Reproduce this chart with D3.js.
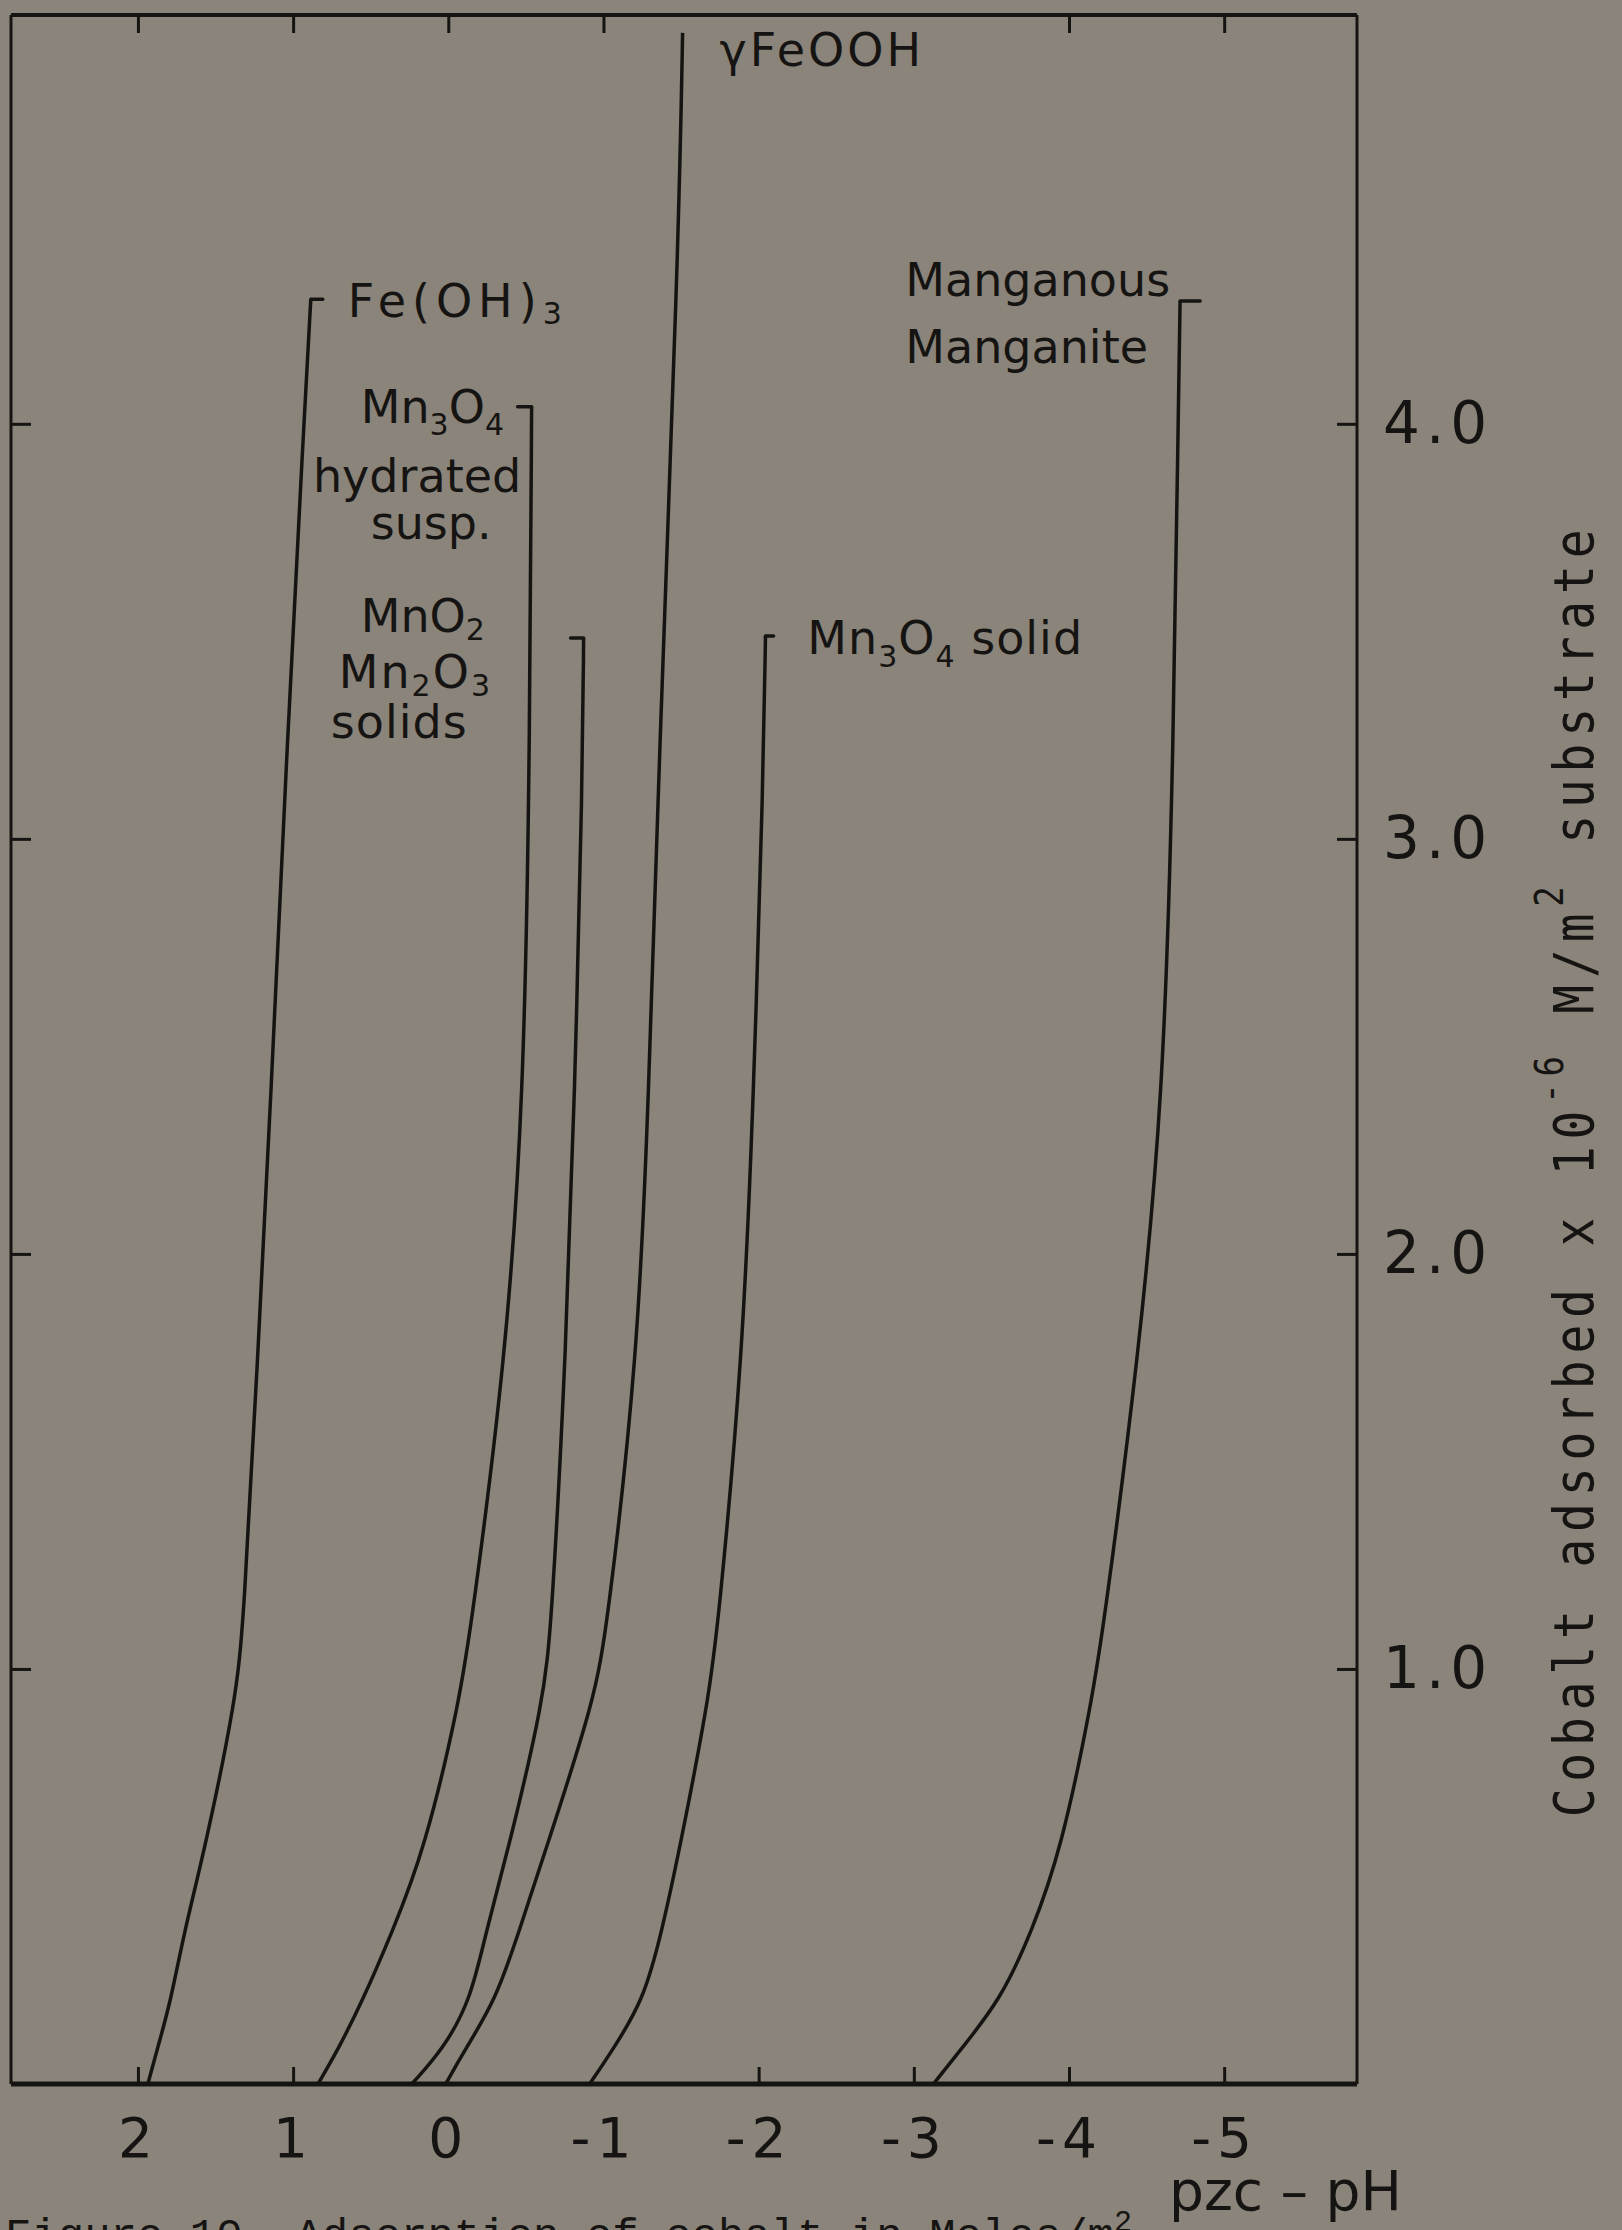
<!DOCTYPE html>
<html>
<head>
<meta charset="utf-8">
<script src="https://cdn.jsdelivr.net/npm/d3@7"></script>
<style>
  body { margin: 0; background: #8a847a; }
  svg { display: block; }
</style>
</head>
<body>
<div id="plot"></div>
<script>
// chart values
var xTickValues = [2, 1, 0, -1, -2, -3, -4, -5];
var xTickLabels = ['2', '1', '0', '-1', '-2', '-3', '-4', '-5'];
var xTicksTop = [2, 1, 0, -1, -4, -5];
var xTicksBottom = [2, 1, -2, -3, -4, -5];
var yTickValues = [1, 2, 3, 4];
var yTickLabels = ['1.0', '2.0', '3.0', '4.0'];

// each curve: [pzc - pH, cobalt adsorbed x 1e-6 M/m2]
var feOH3 = [[1.936,0],[1.877,0.082],[1.787,0.202],[1.704,0.364],[1.570,0.564],[1.369,0.925],[1.319,1.113],[1.229,1.745],[1.144,2.371],[1.047,3.166],[0.931,4.0],[0.886,4.30]];
var mn3o4Hyd = [[0.840,0],[0.712,0.082],[0.551,0.202],[0.364,0.364],[0.152,0.564],[-0.074,0.925],[-0.151,1.113],[-0.370,1.745],[-0.486,2.371],[-0.524,3.166],[-0.537,4.041]];
var mnO2Solids = [[0.236,0],[0.036,0.082],[-0.144,0.202],[-0.241,0.364],[-0.386,0.564],[-0.615,0.925],[-0.666,1.113],[-0.756,1.745],[-0.814,2.371],[-0.866,3.166],[-0.872,3.484]];
var gFeOOH = [[0.017,0],[-0.106,0.082],[-0.305,0.202],[-0.453,0.364],[-0.627,0.564],[-0.943,0.925],[-1.027,1.113],[-1.220,1.745],[-1.291,2.371],[-1.355,3.166],[-1.484,4.422],[-1.510,4.942]];
var mn3o4Solid = [[-0.911,0],[-1.059,0.082],[-1.258,0.202],[-1.374,0.364],[-1.490,0.564],[-1.677,0.925],[-1.741,1.113],[-1.896,1.745],[-1.967,2.371],[-2.031,3.166],[-2.044,3.489]];
var manganite = [[-3.126,0],[-3.300,0.082],[-3.557,0.202],[-3.757,0.364],[-3.950,0.564],[-4.149,0.925],[-4.227,1.113],[-4.446,1.745],[-4.607,2.371],[-4.671,3.166],[-4.703,4.0],[-4.716,4.296]];

var curves = [feOH3, mn3o4Hyd, mnO2Solids, gFeOOH, mn3o4Solid, manganite];
// little bracket hook at the top end of each curve (pzc - pH where it ends)
var hookEnds = [0.809, -0.447, -0.788, null, -2.096, -4.845];

// labels; "_" marks a subscript digit
var labels = [
  {t: 'Fe(OH)_3', x: 0.648, y: 4.258, ls: 6, sub: 7},
  {t: 'Mn_3O_4', x: 0.564, y: 4.002, ls: 0, sub: 12},
  {t: 'hydrated', x: 0.872, y: 3.836, ls: 0},
  {t: 'susp.', x: 0.500, y: 3.722, ls: 0},
  {t: 'MnO_2', x: 0.564, y: 3.499, ls: 0, sub: 8},
  {t: 'Mn_2O_3', x: 0.706, y: 3.364, ls: 2, sub: 8},
  {t: 'solids', x: 0.757, y: 3.243, ls: 1},
  {t: '\u03b3FeOOH', x: -1.748, y: 4.863, ls: 3},
  {t: 'Manganous', x: -2.945, y: 4.308, ls: 0},
  {t: 'Manganite', x: -2.945, y: 4.147, ls: 0},
  {t: 'Mn_3O_4 solid', x: -2.314, y: 3.446, ls: 1, sub: 13}
];

var W = 1622, H = 2230;
var ink = '#161412';

var svg = d3.select('#plot').append('svg')
    .attr('width', W)
    .attr('height', H);

svg.append('rect')
    .attr('width', W)
    .attr('height', H)
    .attr('fill', '#8a847a');

var x = d3.scaleLinear().domain([2.818, -5.856]).range([11, 1357]);
var y = d3.scaleLinear().domain([0, 4.985]).range([2084, 15]);

var x0 = x.range()[0], x1 = x.range()[1];
var y0 = y.range()[0], y1 = y.range()[1];

// frame
svg.append('line').attr('x1', x0).attr('x2', x1).attr('y1', y0).attr('y2', y0)
    .attr('stroke', ink).attr('stroke-width', 5);
svg.append('line').attr('x1', x0).attr('x2', x1).attr('y1', y1).attr('y2', y1)
    .attr('stroke', ink).attr('stroke-width', 4);
svg.append('line').attr('x1', x0).attr('x2', x0).attr('y1', y1).attr('y2', y0)
    .attr('stroke', ink).attr('stroke-width', 3);
svg.append('line').attr('x1', x1).attr('x2', x1).attr('y1', y1).attr('y2', y0)
    .attr('stroke', ink).attr('stroke-width', 3);

// inward tick marks
function tickOnly(g) {
    g.select('.domain').remove();
    g.selectAll('line').attr('stroke', ink).attr('stroke-width', 3);
}
svg.append('g').attr('transform', 'translate(0,' + y0 + ')')
    .call(d3.axisBottom(x).tickValues(xTicksBottom).tickSize(-17).tickFormat(''))
    .call(tickOnly);
svg.append('g').attr('transform', 'translate(0,' + y1 + ')')
    .call(d3.axisTop(x).tickValues(xTicksTop).tickSize(-18).tickFormat(''))
    .call(tickOnly);
svg.append('g').attr('transform', 'translate(' + x0 + ',0)')
    .call(d3.axisLeft(y).tickValues(yTickValues).tickSize(-20).tickFormat(''))
    .call(tickOnly);
svg.append('g').attr('transform', 'translate(' + x1 + ',0)')
    .call(d3.axisRight(y).tickValues(yTickValues).tickSize(-20).tickFormat(''))
    .call(tickOnly);

// tick labels
var xLab = svg.append('g').attr('transform', 'translate(0,' + y0 + ')')
    .call(d3.axisBottom(x).tickValues(xTickValues).tickSize(0).tickPadding(34)
        .tickFormat(function(d, i) { return xTickLabels[i]; }));
xLab.select('.domain').remove();
xLab.attr('font-family', 'DejaVu Sans').attr('font-size', 55);
xLab.selectAll('text').attr('fill', ink).attr('letter-spacing', 6);

var yLab = svg.append('g').attr('transform', 'translate(' + x1 + ',0)')
    .call(d3.axisRight(y).tickValues(yTickValues).tickSize(0).tickPadding(26)
        .tickFormat(function(d, i) { return yTickLabels[i]; }));
yLab.select('.domain').remove();
yLab.attr('font-family', 'DejaVu Sans').attr('font-size', 58);
yLab.selectAll('text').attr('fill', ink).attr('letter-spacing', 6);

// curves
var line = d3.line()
    .x(function(d) { return x(d[0]); })
    .y(function(d) { return y(d[1]); })
    .curve(d3.curveBasis);

svg.selectAll('.curve')
    .data(curves)
    .enter()
    .append('path')
    .attr('class', 'curve')
    .attr('d', line)
    .attr('fill', 'none')
    .attr('stroke', ink)
    .attr('stroke-width', 3.5)
    .attr('stroke-linejoin', 'round');

curves.forEach(function(c, i) {
    if (hookEnds[i] === null) return;
    var top = c[c.length - 1];
    svg.append('line')
        .attr('x1', x(top[0])).attr('y1', y(top[1]))
        .attr('x2', x(hookEnds[i])).attr('y2', y(top[1]))
        .attr('stroke', ink).attr('stroke-width', 3.5)
        .attr('stroke-linecap', 'round');
});

// curve labels
labels.forEach(function(l) {
    var t = svg.append('text')
        .attr('x', x(l.x))
        .attr('y', y(l.y))
        .attr('font-family', 'DejaVu Sans')
        .attr('font-size', 46)
        .attr('letter-spacing', l.ls)
        .attr('fill', ink);
    var parts = l.t.split(/(_\d)/).filter(function(p) { return p.length; });
    var shift = 0;
    parts.forEach(function(p) {
        if (p[0] === '_') {
            t.append('tspan').attr('dy', l.sub - shift).attr('font-size', 30).text(p[1]);
            shift = l.sub;
        } else {
            t.append('tspan').attr('dy', -shift).text(p);
            shift = 0;
        }
    });
});

// x axis title
svg.append('text')
    .attr('x', 1169)
    .attr('y', 2210)
    .attr('font-family', 'DejaVu Sans')
    .attr('font-size', 55)
    .attr('fill', ink)
    .text('pzc \u2013 pH');

// y axis title, on the right, reading upwards
var yt = svg.append('text')
    .attr('transform', 'translate(1593,1170) rotate(-90) scale(1,1.15)')
    .attr('text-anchor', 'middle')
    .attr('font-family', 'DejaVu Sans Mono')
    .attr('font-size', 48)
    .attr('fill', ink);
yt.append('tspan').text('Cobalt  adsorbed  x  10');
yt.append('tspan').attr('dy', -26).attr('font-size', 34).text('-6');
yt.append('tspan').attr('dy', 26).text(' M/m');
yt.append('tspan').attr('dy', -26).attr('font-size', 34).text('2');
yt.append('tspan').attr('dy', 26).text(' substrate');
var ytLen = yt.node().getComputedTextLength();
var ytChars = yt.text().length;
yt.attr('letter-spacing', (1315 - ytLen) / ytChars);

// caption, cut off by the bottom edge
var cap = svg.append('text')
    .attr('x', 5)
    .attr('y', 2249)
    .attr('font-family', 'Liberation Mono')
    .attr('font-size', 44)
    .attr('fill', ink);
cap.append('tspan').text('Figure 10.  Adsorption of cobalt in Moles/m');
cap.append('tspan').attr('dy', -18).attr('font-size', 30).text('2');
</script>
</body>
</html>
